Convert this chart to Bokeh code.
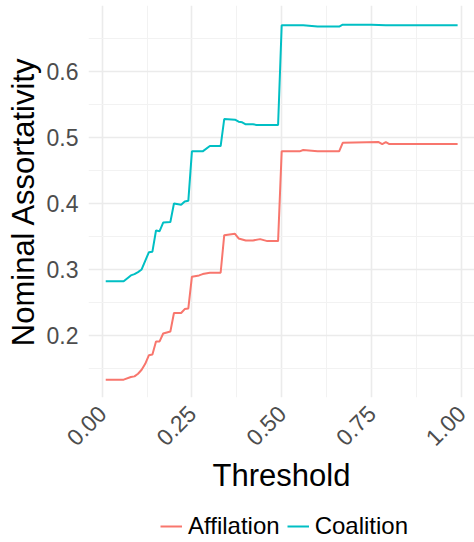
import math
from bokeh.plotting import figure
from bokeh.layouts import column
from bokeh.models import Range1d, FixedTicker, Legend, LegendItem
from bokeh.embed import file_html
from bokeh.resources import INLINE

# ---- data ----
coal_x = [0.01, 0.06, 0.08, 0.09, 0.10, 0.11, 0.13, 0.14, 0.15, 0.16, 0.17, 0.19, 0.20,
          0.22, 0.23, 0.24, 0.25, 0.28, 0.30, 0.33, 0.34, 0.37, 0.38, 0.39, 0.40, 0.42,
          0.43, 0.49, 0.50, 0.56, 0.60, 0.66, 0.67, 0.75, 0.79, 0.99]
coal_y = [0.282, 0.282, 0.291, 0.293, 0.296, 0.300, 0.326, 0.327, 0.359, 0.358, 0.371, 0.372, 0.400,
          0.398, 0.403, 0.404, 0.479, 0.479, 0.487, 0.487, 0.528, 0.527, 0.524, 0.523, 0.520, 0.520,
          0.519, 0.519, 0.670, 0.670, 0.668, 0.668, 0.671, 0.671, 0.670, 0.670]

aff_x = [0.01, 0.06, 0.08, 0.09, 0.10, 0.11, 0.12, 0.13, 0.14, 0.15, 0.16, 0.17, 0.19, 0.20,
         0.22, 0.23, 0.24, 0.25, 0.27, 0.28, 0.30, 0.33, 0.34, 0.37, 0.38, 0.40, 0.42, 0.44,
         0.46, 0.49, 0.50, 0.55, 0.56, 0.60, 0.66, 0.67, 0.77, 0.78, 0.79, 0.80, 0.99]
aff_y = [0.133, 0.133, 0.137, 0.138, 0.142, 0.148, 0.157, 0.170, 0.171, 0.191, 0.191, 0.203, 0.206, 0.234,
         0.234, 0.240, 0.241, 0.289, 0.291, 0.293, 0.295, 0.295, 0.352, 0.354, 0.347, 0.344, 0.344, 0.346,
         0.343, 0.343, 0.479, 0.479, 0.481, 0.479, 0.479, 0.492, 0.493, 0.490, 0.493, 0.490, 0.490]

x_ticks = [0.0, 0.25, 0.5, 0.75, 1.0]
x_tick_labels = ["0.00", "0.25", "0.50", "0.75", "1.00"]
x_minor = [0.125, 0.375, 0.625, 0.875]
y_ticks = [0.2, 0.3, 0.4, 0.5, 0.6]
y_tick_labels = ["0.2", "0.3", "0.4", "0.5", "0.6"]
y_minor = [0.15, 0.25, 0.35, 0.45, 0.55, 0.65]

series_names = ["Affilation", "Coalition"]
series_colors = ["#F8766D", "#00BFC4"]

FONT = "Liberation Sans"

p = figure(width=474, height=502, output_backend="svg", toolbar_location=None,
           x_range=Range1d(-0.038, 1.037), y_range=Range1d(0.106, 0.7),
           min_border_left=88, min_border_right=0, min_border_top=5, min_border_bottom=105)
p.outline_line_color = None
p.background_fill_color = "white"
p.border_fill_color = "white"

# axes
p.xaxis.ticker = FixedTicker(ticks=x_ticks, minor_ticks=x_minor)
p.yaxis.ticker = FixedTicker(ticks=y_ticks, minor_ticks=y_minor)
p.xaxis.major_label_overrides = {t: l for t, l in zip(x_ticks, x_tick_labels)}
p.yaxis.major_label_overrides = {t: l for t, l in zip(y_ticks, y_tick_labels)}
for ax in (p.xaxis, p.yaxis):
    ax.axis_line_color = None
    ax.major_tick_line_color = None
    ax.minor_tick_line_color = None
    ax.major_tick_out = 0
    ax.major_tick_in = 0
    ax.minor_tick_out = 0
    ax.minor_tick_in = 0
    ax.major_label_text_font = FONT
    ax.major_label_text_font_size = "23px"
    ax.major_label_text_color = "#4D4D4D"
    ax.axis_label_text_font = FONT
    ax.axis_label_text_font_size = "31px"
    ax.axis_label_text_font_style = "normal"
    ax.axis_label_text_color = "black"
p.xaxis.axis_label = "Threshold"
p.yaxis.axis_label = "Nominal Assortativity"
p.xaxis.major_label_orientation = math.pi / 4
p.xaxis.major_label_standoff = 12
p.yaxis.major_label_standoff = 10
p.xaxis.axis_label_standoff = 2
p.yaxis.axis_label_standoff = 3

# grid
for g in (p.xgrid, p.ygrid):
    g.grid_line_color = "#EBEBEB"
    g.grid_line_width = 1.6
    g.minor_grid_line_color = "#F2F2F2"
    g.minor_grid_line_width = 1.0

p.line(aff_x, aff_y, line_color=series_colors[0], line_width=2)
p.line(coal_x, coal_y, line_color=series_colors[1], line_width=2)

# legend panel underneath the plot (its lines hold the same data, kept out of view)
pl = figure(width=474, height=40, output_backend="svg", toolbar_location=None,
            x_axis_type=None, y_axis_type=None,
            x_range=Range1d(10, 11), y_range=Range1d(10, 11),
            min_border_left=0, min_border_right=0, min_border_top=0, min_border_bottom=0)
pl.outline_line_color = None
pl.xgrid.visible = False
pl.ygrid.visible = False
k1 = pl.line(aff_x, aff_y, line_color=series_colors[0], line_width=2)
k2 = pl.line(coal_x, coal_y, line_color=series_colors[1], line_width=2)
legend = Legend(items=[LegendItem(label=series_names[0], renderers=[k1]),
                       LegendItem(label=series_names[1], renderers=[k2])],
                orientation="horizontal", location=(72, 2),
                label_text_font=FONT, label_text_font_size="24px",
                label_text_color="black", glyph_width=22, glyph_height=24,
                label_standoff=6, spacing=7, padding=0, margin=0,
                border_line_color=None, background_fill_alpha=0)
pl.add_layout(legend, "center")

layout = column(p, pl, spacing=0)
open("out.html", "w").write(file_html(layout, INLINE))
